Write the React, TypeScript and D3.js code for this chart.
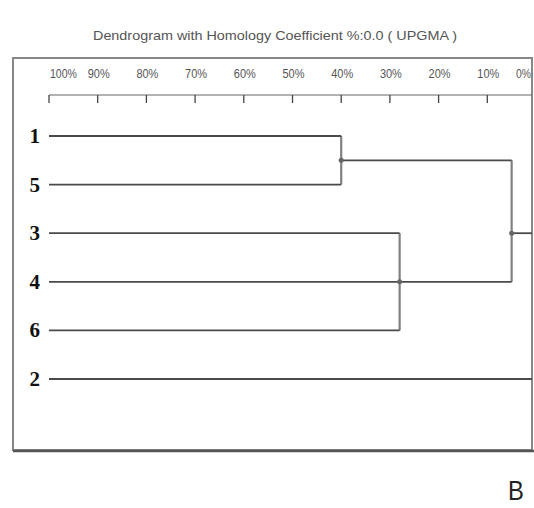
import React from "react";
import * as d3 from "d3";

// leaves top to bottom
const leafOrder = ["1", "5", "3", "4", "6", "2"];

// clusters (UPGMA), similarity in %
const clusterIds = ["A", "B", "C", "root"];
const clusterChildren = [["1", "5"], ["3", "4", "6"], ["A", "B"], ["C", "2"]];
const clusterSimilarity = [40, 28, 5, 0];

const tickValues = [100, 90, 80, 70, 60, 50, 40, 30, 20, 10, 0];
const title = "Dendrogram with Homology Coefficient %:0.0 ( UPGMA )";

const W = 534;
const H = 508;
const frame = { left: 13, top: 58, right: 532, bottom: 450 };

export default function App() {
  const x = d3.scaleLinear().domain([100, 0]).range([49, 536]);
  const y = d3.scalePoint().domain(leafOrder).range([136, 379]);

  // leaves under each node, to place nodes at the mean of their leaves
  const leavesOf = (id: string): string[] => {
    const i = clusterIds.indexOf(id);
    if (i < 0) return [id];
    return clusterChildren[i].flatMap(leavesOf);
  };
  const nodeY = (id: string) => d3.mean(leavesOf(id), (l) => y(l) as number) as number;
  const nodeX = (id: string) => {
    const i = clusterIds.indexOf(id);
    return i < 0 ? x(100) : x(clusterSimilarity[i]);
  };

  const links: any[] = [];
  clusterIds.forEach((id, i) => {
    const cx = x(clusterSimilarity[i]);
    const ys = clusterChildren[i].map(nodeY);
    links.push({ kind: "v", x1: cx, x2: cx, y1: d3.min(ys), y2: d3.max(ys) });
    clusterChildren[i].forEach((c) => {
      const leaf = clusterIds.indexOf(c) < 0;
      links.push({ kind: leaf ? "leaf" : "h", x1: nodeX(c), x2: cx, y1: nodeY(c), y2: nodeY(c) });
    });
  });

  const last = tickValues.length - 1;

  return (
    <svg
      width={W}
      height={H}
      style={{ position: "absolute", left: 0, top: 0, background: "#fff" }}
      fontFamily="Liberation Sans, Arial, sans-serif"
    >
      <defs>
        <clipPath id="frameClip">
          <rect x={frame.left} y={frame.top} width={frame.right - frame.left} height={frame.bottom - frame.top} />
        </clipPath>
      </defs>

      <text x={275} y={40} textAnchor="middle" fontSize={13} fill="#555" textLength={364} lengthAdjust="spacingAndGlyphs">
        {title}
      </text>

      <rect
        x={frame.left}
        y={frame.top}
        width={frame.right - frame.left}
        height={frame.bottom - frame.top}
        fill="none"
        stroke="#888"
        strokeWidth={2}
      />
      <line x1={frame.left} x2={frame.right + 2} y1={frame.bottom + 1} y2={frame.bottom + 1} stroke="#555" strokeWidth={2.5} />

      {/* tick labels */}
      {tickValues.map((t, i) => (
        <text
          key={"l" + t}
          x={i === 0 ? x(t) + 1 : i === last ? 516 : x(t) + 1}
          y={78}
          fontSize={13}
          fill="#555"
          textAnchor={i === 0 || i === last ? "start" : "middle"}
          lengthAdjust="spacingAndGlyphs"
          textLength={i === 0 ? 27 : i === last ? 15 : 22}
        >
          {t + "%"}
        </text>
      ))}

      <g clipPath="url(#frameClip)">
        {/* axis */}
        <line x1={x(100)} x2={W} y1={95} y2={95} stroke="#666" strokeWidth={1.2} />
        {tickValues.map((t) => (
          <line key={"t" + t} x1={x(t)} x2={x(t)} y1={95} y2={103} stroke="#444" strokeWidth={1.3} />
        ))}

        {/* dendrogram */}
        {links.map((l, i) => (
          <line
            key={i}
            x1={l.x1}
            x2={l.x2}
            y1={l.y1}
            y2={l.y2}
            stroke={l.kind === "v" ? "#808080" : "#4a4a4a"}
            strokeWidth={l.kind === "v" ? 2.2 : 1.8}
          />
        ))}
        {clusterIds.map((id, i) => (
          <circle key={id} cx={x(clusterSimilarity[i])} cy={nodeY(id)} r={2.5} fill="#666" />
        ))}
      </g>

      {leafOrder.map((l) => (
        <text
          key={"n" + l}
          x={40}
          y={(y(l) as number) + 7}
          textAnchor="end"
          fontFamily="Liberation Serif, Times New Roman, serif"
          fontWeight="bold"
          fontSize={21}
          fill="#111"
        >
          {l}
        </text>
      ))}

      <text x={516} y={500} textAnchor="middle" fontSize={28} fill="#222" transform="translate(516,0) scale(0.85,1) translate(-516,0)">
        B
      </text>
    </svg>
  );
}
